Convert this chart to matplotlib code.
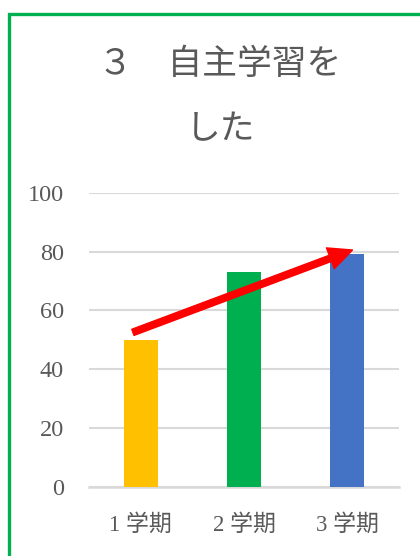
import matplotlib.pyplot as plt
from matplotlib.patches import FancyArrowPatch, Rectangle

# data
terms = ['1 学期', '2 学期', '3 学期']
values = [50, 73, 79]
bar_colors = ['#FFC000', '#00B050', '#4472C4']
y_ticks = [0, 20, 40, 60, 80, 100]

# trend arrow (data coords)
arrow_start = (-0.075, 52.5)
arrow_end = (2.05, 80.5)

text_color = '#595959'
grid_color = '#D9D9D9'

fig = plt.figure(figsize=(4.2, 5.56), dpi=100)
W, H = 420, 556

ax = fig.add_axes([89 / W, (H - 486.7) / H, (399 - 89) / W, (486.7 - 192.7) / H])
x = range(len(terms))
ax.bar(x, values, width=0.33, color=bar_colors, zorder=3)
ax.set_xlim(-0.5, 2.5)
ax.set_ylim(0, 100)
ax.set_yticks(y_ticks)
ax.set_xticks(list(x))
ax.set_xticklabels(terms, family=['Liberation Serif', 'Noto Sans CJK JP'],
                   fontsize=16.5, color=text_color)
ax.set_yticklabels([str(v) for v in y_ticks], family='Liberation Serif',
                   fontsize=17.5, color=text_color)
ax.tick_params(axis='both', length=0)
ax.tick_params(axis='y', pad=18)
ax.tick_params(axis='x', pad=20)
ax.grid(axis='y', color=grid_color, linewidth=1.5, zorder=0)
for s in ['top', 'right', 'left']:
    ax.spines[s].set_visible(False)
ax.spines['bottom'].set_color(grid_color)
ax.spines['bottom'].set_linewidth(1.8)

arrow = FancyArrowPatch(arrow_start, arrow_end,
                        arrowstyle='simple,head_length=1.7,head_width=1.6,tail_width=0.47',
                        mutation_scale=10, color='#FF0000', shrinkA=0, shrinkB=0,
                        zorder=5)
ax.add_patch(arrow)

# title
fig.text(220 / W, 1 - 65 / H, '３　自主学習を', ha='center', va='center',
         fontsize=25, color=text_color, family='Noto Sans CJK JP')
fig.text(221 / W, 1 - 130 / H, 'した', ha='center', va='center',
         fontsize=25, color=text_color, family='Noto Sans CJK JP')

# green frame (extends past right/bottom edge)
frame = Rectangle((9.2 / W, -0.1), 1.2, (H - 14.3) / H + 0.1,
                  transform=fig.transFigure, fill=False,
                  edgecolor='#00B050', linewidth=2.4, clip_on=False)
fig.patches.append(frame)

fig.savefig('out.png', dpi=100)
